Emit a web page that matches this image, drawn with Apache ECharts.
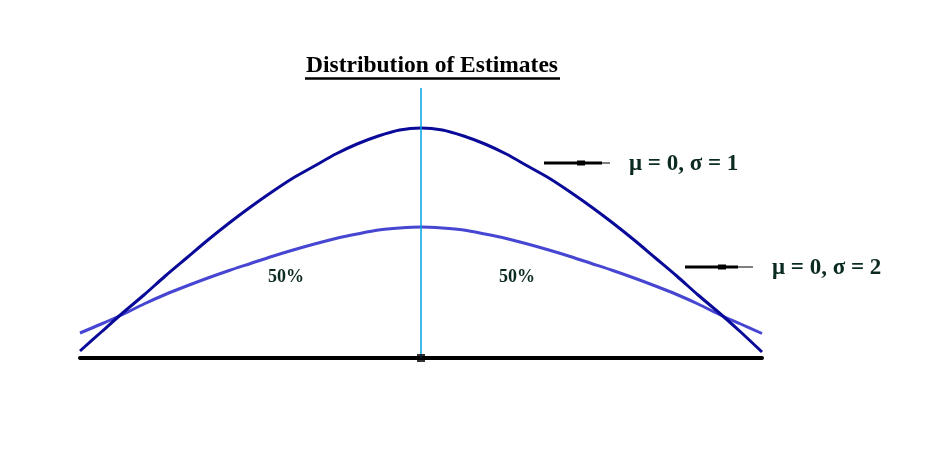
<!DOCTYPE html>
<html>
<head>
<meta charset="utf-8">
<script src="https://cdn.jsdelivr.net/npm/echarts@6/dist/echarts.min.js"></script>
<style>html,body{margin:0;padding:0;background:#fff}#c{width:945px;height:453px}</style>
</head>
<body>
<div id="c"></div>
<script>
// Data (x in standard units, y = curve height)
const xs = [-4, -3.75, -3.5, -3.25, -3, -2.75, -2.5, -2.25, -2, -1.75, -1.5, -1.25, -1, -0.75, -0.5, -0.25,
            0, 0.25, 0.5, 0.75, 1, 1.25, 1.5, 1.75, 2, 2.25, 2.5, 2.75, 3, 3.25, 3.5, 3.75, 4];
const sigma1 = [7, 26, 45, 63, 82, 100, 118, 135, 151, 166, 180, 192, 204, 214, 222, 228,
                230, 228, 222, 214, 204, 192, 180, 166, 151, 135, 118, 100, 82, 63, 45, 26, 6];
const sigma2 = [25, 34, 43.5, 54, 63.5, 72, 80, 87.5, 94.5, 101.5, 108, 114, 119.5, 124, 128, 130,
                131, 130, 128, 124, 119.5, 114, 108, 101.5, 94.5, 87.5, 80, 72, 63.5, 54, 43.5, 34, 24.5];
const seriesNames = ['μ = 0, σ = 1', 'μ = 0, σ = 2'];
const titleText = 'Distribution of Estimates';
const areaLabels = ['50%', '50%'];
const centerX = 0;

const chart = echarts.init(document.getElementById('c'), null, {renderer: 'canvas'});
const serif = '"Liberation Serif", "Times New Roman", serif';
const legendColor = '#0b2a22';

function legendItem(x1, x2, sq, thinEnd, y, label, tx) {
  return [
    {type: 'line', shape: {x1: x1, y1: y, x2: x2, y2: y}, style: {stroke: '#000', lineWidth: 3}},
    {type: 'line', shape: {x1: x2, y1: y, x2: thinEnd, y2: y}, style: {stroke: '#000', lineWidth: 1}},
    {type: 'rect', shape: {x: sq, y: y - 2.5, width: 8, height: 5}, style: {fill: '#000'}},
    {type: 'text', x: tx, y: y + 1, style: {text: label, font: 'bold 23px ' + serif, fill: legendColor, verticalAlign: 'middle'}}
  ];
}

const option = {
  animation: false,
  backgroundColor: '#fff',
  grid: {left: 80, right: 183, top: 88, bottom: 95},
  xAxis: {
    type: 'value', min: -4, max: 4,
    axisLine: {show: true, onZero: false, lineStyle: {color: '#000', width: 4, cap: 'round'}},
    axisTick: {show: false}, axisLabel: {show: false}, splitLine: {show: false}
  },
  yAxis: {type: 'value', min: 0, max: 270, show: false, splitLine: {show: false}},
  series: [
    {
      name: seriesNames[0], type: 'line', smooth: 0.3, symbol: 'none',
      data: xs.map((x, i) => [x, sigma1[i]]),
      lineStyle: {color: '#0a0a99', width: 3}, z: 3,
      markLine: {
        silent: true, symbol: 'none', label: {show: false},
        lineStyle: {color: '#00a2e8', width: 1.5, type: 'solid', opacity: 1},
        data: [[{coord: [centerX, 0]}, {coord: [centerX, 270]}]]
      }
    },
    {
      name: seriesNames[1], type: 'line', smooth: 0.3, symbol: 'none',
      data: xs.map((x, i) => [x, sigma2[i]]),
      lineStyle: {color: '#4646d2', width: 3}, z: 2
    },
    {
      type: 'scatter', symbol: 'rect', symbolSize: 8, data: [[centerX, 0]],
      itemStyle: {color: '#000'}, z: 5, silent: true
    }
  ],
  graphic: [
    {type: 'text', x: 432, y: 66, style: {text: titleText, font: 'bold 23.5px ' + serif, fill: '#000', align: 'center', verticalAlign: 'middle'}},
    {type: 'line', shape: {x1: 305, y1: 78.5, x2: 560, y2: 78.5}, style: {stroke: '#000', lineWidth: 2.5}},
    {type: 'text', x: 286, y: 277, style: {text: areaLabels[0], font: 'bold 18px ' + serif, fill: legendColor, align: 'center', verticalAlign: 'middle'}},
    {type: 'text', x: 517, y: 277, style: {text: areaLabels[1], font: 'bold 18px ' + serif, fill: legendColor, align: 'center', verticalAlign: 'middle'}},
    ...legendItem(544, 602, 577, 610, 163, seriesNames[0], 629),
    ...legendItem(685, 738, 718, 753, 267, seriesNames[1], 772)
  ]
};
chart.setOption(option);
</script>
</body>
</html>
